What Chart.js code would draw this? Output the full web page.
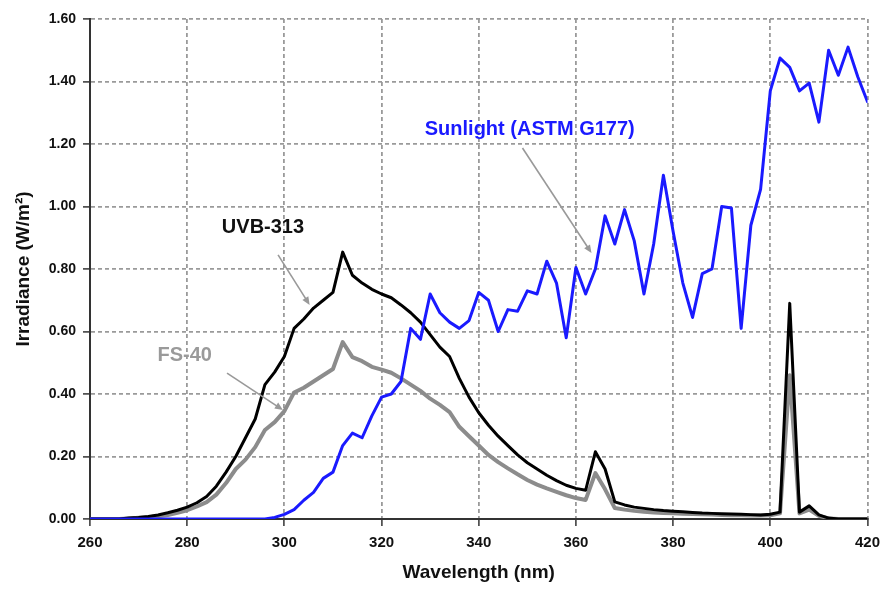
<!DOCTYPE html>
<html>
<head>
<meta charset="utf-8">
<script src="https://cdn.jsdelivr.net/npm/chart.js@4"></script>
<style>
  html, body { margin: 0; padding: 0; background: #ffffff; }
  #wrap { width: 888px; height: 594px; }
</style>
</head>
<body>
<div id="wrap"><canvas id="c" width="888" height="594"></canvas></div>
<script>
// Wavelength (nm)
const wavelengths = [260,262,264,266,268,270,272,274,276,278,280,282,284,286,288,290,292,294,296,298,
  300,302,304,306,308,310,312,314,316,318,320,322,324,326,328,330,332,334,336,338,
  340,342,344,346,348,350,352,354,356,358,360,362,364,366,368,370,372,374,376,378,
  380,382,384,386,388,390,392,394,396,398,400,402,404,406,408,410,412,414,416,418,420];

// Sunlight (ASTM G177)
const sunlight = [0,0,0,0,0,0,0,0,0,0,0,0,0,0,0,0,0,0,0,0.005,
  0.015,0.03,0.06,0.085,0.13,0.15,0.235,0.275,0.26,0.33,0.39,0.40,0.44,0.61,0.575,0.72,0.66,0.63,0.61,0.635,
  0.725,0.70,0.60,0.67,0.665,0.73,0.72,0.825,0.755,0.58,0.805,0.72,0.80,0.97,0.88,0.99,0.89,0.72,0.88,1.10,
  0.92,0.755,0.645,0.785,0.80,1.00,0.995,0.61,0.94,1.055,1.37,1.475,1.445,1.37,1.395,1.27,1.50,1.42,1.51,1.415,1.335];

// UVB-313 lamp
const uvb313 = [0,0,0,0,0.003,0.005,0.008,0.013,0.02,0.028,0.038,0.052,0.072,0.105,0.15,0.2,0.26,0.32,0.43,0.47,
  0.52,0.61,0.64,0.675,0.70,0.725,0.854,0.78,0.755,0.735,0.72,0.708,0.685,0.66,0.63,0.59,0.55,0.52,0.45,0.39,
  0.34,0.30,0.265,0.235,0.205,0.18,0.16,0.14,0.123,0.108,0.098,0.092,0.215,0.16,0.055,0.045,0.038,0.034,0.03,0.027,
  0.025,0.023,0.021,0.019,0.018,0.017,0.016,0.015,0.014,0.013,0.015,0.022,0.69,0.022,0.042,0.013,0.003,0,0,0,0];

// FS-40 lamp
const fs40 = [0,0,0,0,0.002,0.004,0.006,0.009,0.013,0.02,0.028,0.04,0.054,0.078,0.115,0.16,0.19,0.23,0.285,0.31,
  0.345,0.405,0.42,0.44,0.46,0.48,0.566,0.518,0.505,0.487,0.478,0.468,0.45,0.43,0.41,0.385,0.365,0.342,0.295,0.265,
  0.235,0.205,0.182,0.162,0.143,0.125,0.11,0.098,0.087,0.076,0.067,0.061,0.147,0.095,0.035,0.03,0.026,0.023,0.021,0.019,
  0.018,0.017,0.016,0.015,0.014,0.013,0.012,0.012,0.011,0.011,0.012,0.018,0.46,0.018,0.03,0.01,0.002,0,0,0,0];

const xTicks = [260,280,300,320,340,360,380,400,420];
const yTicks = [0.00,0.20,0.40,0.60,0.80,1.00,1.20,1.40,1.60];

const seriesLabels = ['Sunlight (ASTM G177)', 'UVB-313', 'FS-40'];
const xTitle = 'Wavelength (nm)';
const yTitle = 'Irradiance (W/m\u00B2)';

function pts(vals) { return wavelengths.map((w, i) => ({ x: w, y: vals[i] })); }

// Callouts in data units: text anchor and arrow start/end
const callouts = [
  { text: seriesLabels[0], color: '#1a1aff', tx: 350.5, ty: 1.245, ax: 349.0, ay: 1.187, bx: 363.2, by: 0.851 },
  { text: seriesLabels[1], color: '#111111', tx: 295.6, ty: 0.934, ax: 298.7, ay: 0.845, bx: 305.2, by: 0.685 },
  { text: seriesLabels[2], color: '#9a9a9a', tx: 279.5, ty: 0.522, ax: 288.2, ay: 0.467, bx: 299.7, by: 0.349 }
];

const calloutPlugin = {
  id: 'callouts',
  afterDatasetsDraw(chart) {
    const ctx = chart.ctx, xs = chart.scales.x, ys = chart.scales.y;
    ctx.save();
    callouts.forEach(c => {
      const x1 = xs.getPixelForValue(c.ax), y1 = ys.getPixelForValue(c.ay);
      const x2 = xs.getPixelForValue(c.bx), y2 = ys.getPixelForValue(c.by);
      ctx.strokeStyle = '#999999';
      ctx.fillStyle = '#999999';
      ctx.lineWidth = 1.6;
      ctx.setLineDash([]);
      const ang = Math.atan2(y2 - y1, x2 - x1);
      const hl = 8, hw = 3.5;
      ctx.beginPath();
      ctx.moveTo(x1, y1);
      ctx.lineTo(x2 - Math.cos(ang) * hl * 0.6, y2 - Math.sin(ang) * hl * 0.6);
      ctx.stroke();
      ctx.beginPath();
      ctx.moveTo(x2, y2);
      ctx.lineTo(x2 - Math.cos(ang) * hl + Math.sin(ang) * hw, y2 - Math.sin(ang) * hl - Math.cos(ang) * hw);
      ctx.lineTo(x2 - Math.cos(ang) * hl - Math.sin(ang) * hw, y2 - Math.sin(ang) * hl + Math.cos(ang) * hw);
      ctx.closePath();
      ctx.fill();
      ctx.font = 'bold 20px "Liberation Sans", Arial, sans-serif';
      ctx.fillStyle = c.color;
      ctx.textAlign = 'center';
      ctx.textBaseline = 'middle';
      ctx.fillText(c.text, xs.getPixelForValue(c.tx), ys.getPixelForValue(c.ty));
    });
    ctx.restore();
  }
};

const gridColor = '#9a9a9a';

new Chart(document.getElementById('c'), {
  type: 'line',
  data: {
    datasets: [
      { label: seriesLabels[0], data: pts(sunlight), borderColor: '#1a1aff', borderWidth: 3, order: 1 },
      { label: seriesLabels[1], data: pts(uvb313), borderColor: '#000000', borderWidth: 3, order: 2 },
      { label: seriesLabels[2], data: pts(fs40), borderColor: '#8c8c8c', borderWidth: 4, order: 3 }
    ]
  },
  options: {
    responsive: false,
    animation: false,
    events: [],
    elements: { point: { radius: 0 }, line: { tension: 0, borderJoinStyle: 'round', borderCapStyle: 'round' } },
    layout: { padding: { left: 0, right: 20, top: 19, bottom: 5 } },
    plugins: { legend: { display: false }, tooltip: { enabled: false }, title: { display: false } },
    scales: {
      x: {
        type: 'linear',
        min: xTicks[0], max: xTicks[xTicks.length - 1],
        afterBuildTicks(s) { s.ticks = xTicks.map(v => ({ value: v })); },
        afterFit(s) { s.height = 594 - 519 - 5; },
        ticks: {
          color: '#111111', padding: 8, maxRotation: 0, autoSkip: false,
          font: { family: '"Liberation Sans", Arial, sans-serif', size: 15, weight: 'bold' },
          callback: v => String(v)
        },
        grid: {
          color: gridColor, lineWidth: 1.8, tickColor: '#333333', tickWidth: 1.5, tickLength: 7,
          tickBorderDash: [], drawTicks: true
        },
        border: { display: true, color: '#333333', width: 2, dash: [4, 3] },
        title: {
          display: true, text: xTitle, color: '#111111', padding: { top: 0, bottom: 5 },
          font: { family: '"Liberation Sans", Arial, sans-serif', size: 19, weight: 'bold' }
        }
      },
      y: {
        type: 'linear',
        min: yTicks[0], max: yTicks[yTicks.length - 1],
        afterBuildTicks(s) { s.ticks = yTicks.map(v => ({ value: v })); },
        afterFit(s) { s.width = 90; },
        ticks: {
          color: '#111111', padding: 7, autoSkip: false,
          font: { family: '"Liberation Sans", Arial, sans-serif', size: 14, weight: 'bold' },
          callback: v => Number(v).toFixed(2)
        },
        grid: {
          color: gridColor, lineWidth: 1.8, tickColor: '#333333', tickWidth: 1.5, tickLength: 7,
          tickBorderDash: [], drawTicks: true
        },
        border: { display: true, color: '#333333', width: 2, dash: [4, 3] },
        title: {
          display: true, text: yTitle, color: '#111111', padding: { top: 12, bottom: 0 },
          font: { family: '"Liberation Sans", Arial, sans-serif', size: 19, weight: 'bold' }
        }
      }
    }
  },
  plugins: [calloutPlugin]
});
</script>
</body>
</html>
